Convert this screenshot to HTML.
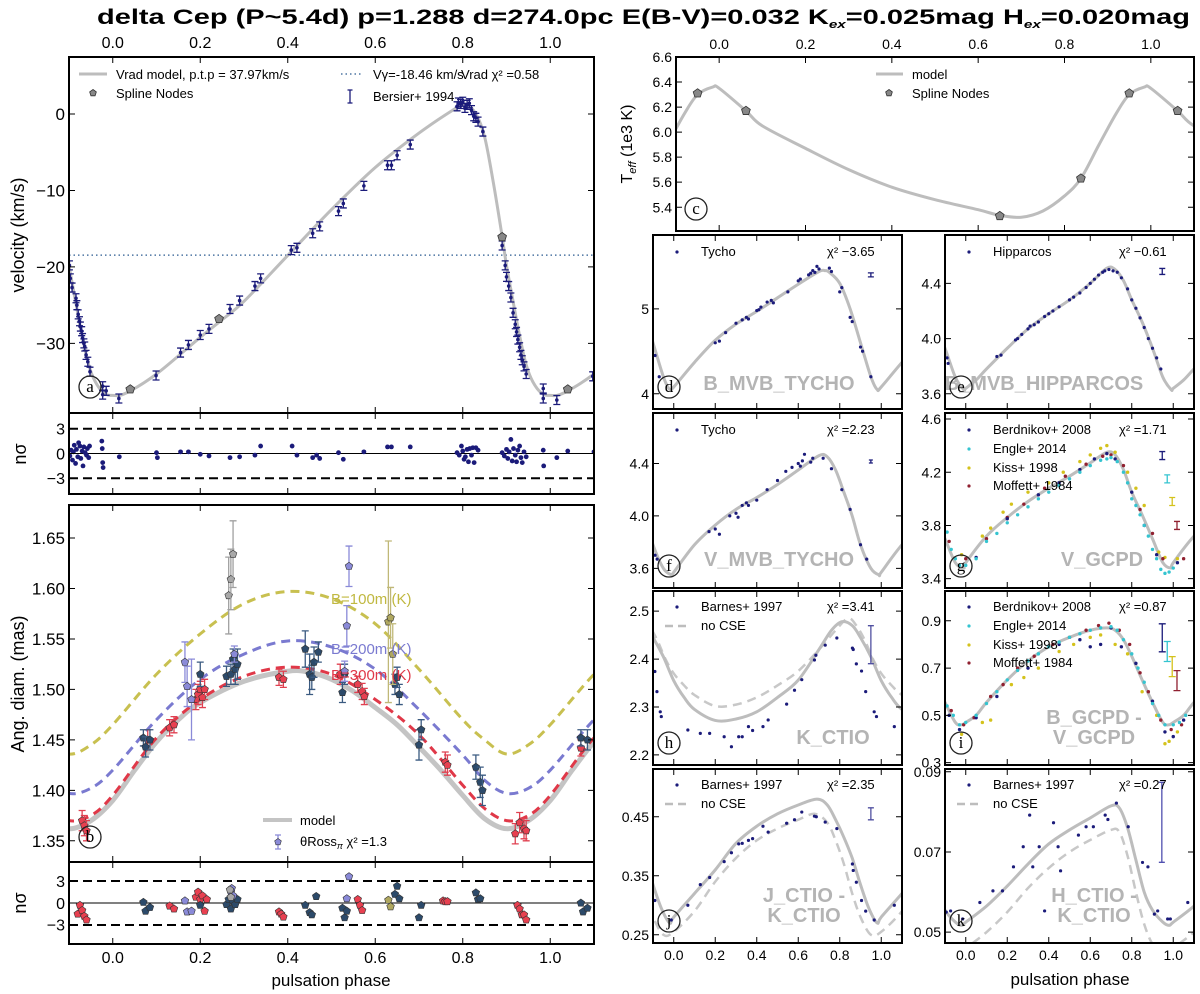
<!DOCTYPE html>
<html><head><meta charset="utf-8"><title>delta Cep fit</title>
<style>
html,body{margin:0;padding:0;background:#fff;}
svg{display:block;font-family:"Liberation Sans","DejaVu Sans",sans-serif;}
</style></head>
<body>
<svg id="chart" xmlns="http://www.w3.org/2000/svg" width="1200" height="994" viewBox="0 0 1200 994">
<rect x="0" y="0" width="1200" height="994" fill="#fff"/>
<text x="97" y="24" font-size="21" font-weight="bold" textLength="1093" lengthAdjust="spacingAndGlyphs">delta Cep (P~5.4d) p=1.288 d=274.0pc E(B-V)=0.032 K<tspan font-size="11" dy="4" font-style="italic">ex</tspan><tspan dy="-4">=0.025mag H</tspan><tspan font-size="11" dy="4" font-style="italic">ex</tspan><tspan dy="-4">=0.020mag</tspan></text>
</svg>
<script>
// ---------------- DATA ----------------
const velModelPh = [0,0.03,0.1,0.2,0.25,0.3,0.4,0.5,0.6,0.7,0.78,0.805,0.83,0.85,0.87,0.89,0.9,0.915,0.93,0.945,0.96,0.98];
const velModelV  = [-36.8,-36.5,-34,-29.2,-26.9,-24.5,-18.5,-12.5,-7,-2.5,0.6,1.3,0,-3,-9,-16,-19.8,-24.5,-29,-32.8,-35,-36.5];
const velNodePh = [0.04,0.243,0.89,1.04];
const velNodeV  = [-36,-26.8,-16.1,-36];
const velDataPh = [-0.099,-0.097,-0.093,-0.084,-0.082,-0.079,-0.076,-0.074,-0.071,-0.069,-0.066,-0.064,-0.061,-0.057,-0.052,-0.023,-0.023,-0.015,0.014,0.099,0.155,0.173,0.2,0.22,0.268,0.29,0.325,0.338,0.408,0.421,0.457,0.473,0.516,0.527,0.574,0.628,0.637,0.65,0.68,0.787,0.79,0.795,0.8,0.805,0.81,0.815,0.82,0.825,0.83,0.835,0.846,0.89,0.897,0.9,0.905,0.91,0.915,0.92,0.923,0.926,0.93,0.933,0.936,0.94,0.945,0.984,0.984,1.015,1.097];
const velDataV  = [-19.8,-21.5,-22.7,-24.1,-25,-26.2,-27.1,-27.8,-28.4,-29.3,-30,-30.4,-31.5,-32.4,-33.7,-35.6,-36.7,-36.2,-37.2,-34.2,-31.2,-30.2,-28.9,-28.1,-25.5,-24.4,-22.5,-21.5,-17.8,-17.5,-15.6,-14.7,-12.7,-11.7,-9.4,-6.7,-6.7,-5.4,-4.0,1.0,1.5,1.3,1.6,0.8,1.2,1.4,0.5,-0.3,-0.5,-1.0,-2.3,-17.2,-19.8,-21.3,-22.5,-24,-26,-27.5,-28.5,-29.5,-30.5,-31.5,-32.2,-33,-34,-35.9,-37.2,-37.4,-34.3];
const vGamma = -18.46;
const resAPh = [-0.098,-0.095,-0.092,-0.09,-0.088,-0.085,-0.083,-0.08,-0.078,-0.075,-0.073,-0.07,-0.068,-0.066,-0.063,-0.06,-0.058,-0.055,-0.053,-0.025,-0.024,-0.023,-0.022,0.015,0.1,0.102,0.155,0.173,0.2,0.22,0.268,0.29,0.325,0.338,0.41,0.421,0.457,0.466,0.473,0.516,0.527,0.574,0.628,0.637,0.68,0.787,0.792,0.797,0.8,0.803,0.806,0.81,0.813,0.816,0.82,0.823,0.826,0.83,0.835,0.89,0.895,0.9,0.903,0.906,0.91,0.913,0.916,0.92,0.923,0.926,0.93,0.933,0.936,0.94,0.945,0.984,0.985,1.015,1.04,1.1];
const resAV  = [-0.3,0.4,-0.8,0.2,1.0,-1.2,0.5,-0.4,1.3,0.9,-0.6,0.3,-1.5,0.8,0.1,-0.2,0.6,-0.5,0.9,1.5,0.6,-1.1,-1.7,-0.4,0.1,-0.5,0.2,0.2,-0.1,-0.3,-0.5,-0.4,-0.2,0.9,0.9,-0.2,-0.5,-0.2,-0.6,0.1,-0.7,0.2,0.8,0.8,0.8,0.1,-0.2,0.9,0.3,-0.7,-0.4,0.5,-1.0,0.6,-0.2,0.7,-1.1,0.7,0.4,0.1,-0.3,0.5,-0.6,0.2,1.7,-0.9,0.6,-0.2,-1.0,0.4,0.9,-0.5,-1.1,0.2,-0.4,0.4,-1.5,-0.5,0.3,0.2];

const diamModelPh = [0,0.05,0.1,0.15,0.2,0.3,0.4,0.45,0.5,0.55,0.6,0.65,0.7,0.75,0.8,0.85,0.9,0.95];
const diamModelV  = [1.39,1.42,1.448,1.47,1.487,1.508,1.518,1.517,1.51,1.498,1.482,1.465,1.443,1.42,1.395,1.372,1.362,1.37];
const diam300Ph = [0,0.1,0.2,0.3,0.4,0.5,0.6,0.7,0.8,0.85,0.9,0.95];
const diam300V  = [1.395,1.452,1.49,1.513,1.522,1.515,1.49,1.455,1.405,1.382,1.37,1.375];
const diam200Ph = [0,0.1,0.2,0.3,0.4,0.5,0.6,0.7,0.8,0.85,0.9,0.95];
const diam200V  = [1.42,1.47,1.51,1.535,1.548,1.542,1.52,1.48,1.435,1.41,1.397,1.402];
const diam100Ph = [0,0.1,0.2,0.3,0.4,0.5,0.6,0.7,0.8,0.85,0.9,0.95];
const diam100V  = [1.465,1.515,1.555,1.585,1.597,1.59,1.565,1.52,1.47,1.45,1.436,1.445];
const diamDataPh  = [-0.07,-0.065,-0.06,0.08,0.13,0.14,0.19,0.195,0.2,0.205,0.21,0.38,0.39,0.52,0.56,0.57,0.575,0.76,0.765,0.92,0.93,0.94,0.945,1.07,0.07,0.075,0.085,0.2,0.26,0.27,0.275,0.28,0.285,0.44,0.45,0.455,0.46,0.47,0.525,0.53,0.645,0.65,0.655,0.7,0.705,0.83,0.84,0.845,1.07,1.085,0.165,0.17,0.18,0.54,0.535,0.53,0.278,0.265,0.27,0.275,0.63,0.635,0.64];
const diamDataV   = [1.37,1.365,1.36,1.45,1.462,1.465,1.49,1.495,1.5,1.492,1.5,1.512,1.51,1.515,1.505,1.498,1.493,1.428,1.425,1.357,1.368,1.362,1.36,1.442,1.452,1.443,1.45,1.515,1.513,1.515,1.53,1.52,1.525,1.54,1.515,1.512,1.527,1.537,1.497,1.515,1.505,1.512,1.495,1.445,1.46,1.423,1.408,1.4,1.452,1.45,1.527,1.503,1.49,1.622,1.563,1.518,1.535,1.593,1.609,1.634,1.567,1.571,1.535];
const diamDataErr = [0.01,0.01,0.01,0.01,0.008,0.008,0.01,0.01,0.008,0.01,0.01,0.008,0.008,0.01,0.008,0.008,0.008,0.01,0.01,0.01,0.01,0.01,0.01,0.008,0.008,0.01,0.01,0.012,0.01,0.01,0.01,0.015,0.015,0.018,0.02,0.012,0.015,0.01,0.01,0.01,0.01,0.01,0.01,0.015,0.01,0.012,0.015,0.015,0.008,0.01,0.02,0.02,0.04,0.02,0.02,0.01,0.008,0.038,0.03,0.033,0.08,0.03,0.03];
const diamDataGrp = ["r","r","r","r","r","r","r","r","r","r","r","r","r","r","r","r","r","r","r","r","r","r","r","r","d","d","d","d","d","d","d","d","d","d","d","d","d","d","d","d","d","d","d","d","d","d","d","d","d","d","l","l","l","l","l","l","l","g","g","g","o","o","o"];
const resBPh  = [-0.08,-0.075,-0.07,-0.065,-0.06,0.13,0.14,0.19,0.195,0.2,0.205,0.21,0.215,0.38,0.385,0.39,0.56,0.565,0.57,0.755,0.76,0.765,0.925,0.93,0.935,0.94,0.945,0.07,0.075,0.085,0.2,0.26,0.265,0.27,0.275,0.28,0.285,0.44,0.45,0.455,0.465,0.525,0.53,0.535,0.645,0.65,0.655,0.7,0.705,0.83,0.835,0.84,1.07,1.075,1.085,0.165,0.17,0.18,0.54,0.535,0.27,0.272,0.275,0.63,0.635,0.268,0.27];
const resBV   = [-1.5,-0.3,-1,-1.8,-2.3,-0.4,-0.8,0.8,1.5,0.5,1.0,-1.1,0.5,-1.2,-1.5,-1.9,0.5,-0.3,-1.0,0.3,0.2,0.2,-0.3,-0.8,-1.6,-1.6,-2.3,0.1,-1.1,-0.6,-0.3,-0.2,0.5,-0.8,0.2,-0.2,0.5,-0.3,-1.3,-1.6,0.9,-0.7,-2.0,-1.1,1.2,2.3,0.6,-2.0,-0.3,1.4,0.5,0.6,0.0,-1.2,-0.7,0.3,-1.2,-1.1,3.6,0.6,1.5,2.0,1.0,0.4,-0.5,1.8,0.8];
const resBGrp = ["r","r","r","r","r","r","r","r","r","r","r","r","r","r","r","r","r","r","r","r","r","r","r","r","r","r","r","d","d","d","d","d","d","d","d","d","d","d","d","d","d","d","d","d","d","d","d","d","d","d","d","d","d","d","d","l","l","l","l","l","l","l","l","o","o","g","g"];

const teffModelPh = [0,0.062,0.1,0.2,0.3,0.4,0.5,0.6,0.65,0.7,0.75,0.8,0.838,0.88,0.92,0.95,0.985];
const teffModelV  = [6.35,6.17,6.05,5.87,5.7,5.56,5.46,5.38,5.335,5.32,5.37,5.49,5.63,5.9,6.15,6.3,6.36];
const teffNodePh = [-0.05,0.062,0.65,0.838,0.95,1.062];
const teffNodeV  = [6.31,6.17,5.33,5.63,6.31,6.17];

const dModelPh = [0,0.1,0.2,0.3,0.4,0.5,0.6,0.7,0.73,0.75,0.8,0.85,0.9,0.95,0.98];
const dModelV  = [4.08,4.37,4.63,4.82,4.97,5.13,5.29,5.44,5.45,5.43,5.3,5.0,4.6,4.2,4.05];
const dDataPh = [-0.09,-0.07,0.2,0.22,0.25,0.3,0.33,0.35,0.36,0.4,0.41,0.42,0.45,0.47,0.48,0.55,0.6,0.61,0.65,0.66,0.67,0.68,0.69,0.7,0.75,0.76,0.8,0.81,0.85,0.86,0.9,0.91,0.95];
const dDataV  = [4.45,4.2,4.6,4.62,4.72,4.83,4.87,4.9,4.88,4.98,4.99,5.02,5.08,5.1,5.07,5.2,5.33,5.35,5.4,5.42,5.45,5.43,5.5,5.47,5.48,5.44,5.2,5.25,4.9,4.85,4.55,4.5,4.2];

const eModelPh = [0,0.05,0.1,0.2,0.3,0.4,0.5,0.6,0.68,0.72,0.76,0.8,0.85,0.9,0.95,0.99];
const eModelV  = [3.64,3.7,3.78,3.93,4.07,4.18,4.28,4.4,4.51,4.5,4.42,4.28,4.12,3.93,3.72,3.63];
const eDataPh = [-0.09,-0.085,0.15,0.17,0.24,0.25,0.27,0.3,0.31,0.33,0.35,0.38,0.4,0.42,0.45,0.5,0.52,0.55,0.58,0.6,0.62,0.64,0.66,0.67,0.69,0.71,0.73,0.75,0.78,0.8,0.82,0.84,0.86,0.88,0.9,0.92,0.94];
const eDataV  = [3.86,3.82,3.87,3.88,3.99,4.0,4.03,4.07,4.09,4.1,4.12,4.16,4.18,4.2,4.23,4.28,4.3,4.33,4.37,4.4,4.43,4.46,4.48,4.49,4.5,4.49,4.48,4.44,4.36,4.28,4.22,4.15,4.08,4.0,3.93,3.86,3.78];

const fModelPh = [0,0.1,0.2,0.3,0.4,0.5,0.6,0.7,0.74,0.78,0.82,0.86,0.9,0.95,0.99];
const fModelV  = [3.57,3.78,3.93,4.05,4.14,4.24,4.35,4.46,4.45,4.35,4.18,4.0,3.78,3.6,3.55];
const fDataPh = [-0.09,-0.08,0.17,0.2,0.22,0.27,0.3,0.31,0.33,0.35,0.36,0.4,0.45,0.5,0.54,0.57,0.6,0.61,0.62,0.63,0.66,0.67,0.72,0.76,0.81,0.85,0.9,0.93];
const fDataV  = [3.7,3.67,3.88,3.9,3.86,4.0,4.02,3.99,4.08,4.1,4.08,4.12,4.2,4.27,4.34,4.37,4.4,4.38,4.42,4.47,4.41,4.44,4.44,4.36,4.2,4.05,3.78,3.67];

const gModelPh = [0,0.1,0.2,0.3,0.4,0.5,0.6,0.68,0.72,0.76,0.8,0.85,0.9,0.95,0.99];
const gModelV  = [3.52,3.72,3.86,3.98,4.08,4.17,4.27,4.35,4.33,4.22,4.05,3.88,3.7,3.52,3.48];
const gBerdPh = [0.05,0.2,0.35,0.45,0.55,0.62,0.68,0.72,0.8,0.86,0.92,1.02];
const gBerdV  = [3.56,3.85,4.03,4.12,4.22,4.3,4.34,4.3,4.05,3.8,3.58,3.52];
const gEnglePh = [-0.09,-0.07,-0.05,-0.03,0.0,0.05,0.1,0.15,0.2,0.25,0.3,0.35,0.4,0.45,0.5,0.55,0.6,0.65,0.68,0.7,0.73,0.76,0.78,0.8,0.82,0.84,0.86,0.88,0.9,0.92,0.94,0.96,0.98,1.0];
const gEngleV  = [3.75,3.62,3.55,3.5,3.5,3.55,3.68,3.74,3.82,3.88,3.94,4.0,4.05,4.1,4.15,4.2,4.25,4.29,4.3,4.31,4.28,4.2,4.12,4.0,3.95,3.88,3.8,3.72,3.62,3.55,3.47,3.44,3.45,3.48];
const gKissPh = [-0.02,0.08,0.12,0.18,0.22,0.3,0.4,0.47,0.55,0.6,0.65,0.68,0.72,0.78,0.82,0.86,0.93,0.96,1.02];
const gKissV  = [3.58,3.72,3.78,3.9,3.96,4.05,4.12,4.2,4.28,4.33,4.38,4.4,4.35,4.2,4.08,3.95,3.6,3.56,3.55];
const gMofPh = [-0.08,0.0,0.1,0.2,0.28,0.38,0.48,0.58,0.66,0.7,0.76,0.84,0.9,0.95,1.05];
const gMofV  = [3.68,3.55,3.7,3.86,3.96,4.08,4.17,4.26,4.32,4.33,4.25,3.92,3.74,3.55,3.55];

const hModelPh = [0,0.05,0.1,0.2,0.3,0.4,0.5,0.6,0.7,0.76,0.81,0.86,0.9,0.95];
const hModelV  = [2.355,2.32,2.295,2.272,2.275,2.29,2.32,2.356,2.42,2.46,2.478,2.47,2.445,2.405];
const hNoCsePh = [0,0.05,0.1,0.2,0.3,0.4,0.5,0.6,0.7,0.78,0.84,0.88,0.92,0.96];
const hNoCseV  = [2.37,2.345,2.325,2.302,2.305,2.32,2.345,2.375,2.42,2.46,2.485,2.47,2.44,2.4];
const hDataPh = [-0.091,-0.081,-0.065,-0.06,0.068,0.128,0.173,0.243,0.278,0.313,0.33,0.36,0.38,0.43,0.455,0.544,0.582,0.617,0.678,0.685,0.73,0.786,0.861,0.865,0.88,0.905,0.925,0.966,0.977,1.063];
const hDataV  = [2.374,2.332,2.29,2.28,2.252,2.245,2.245,2.238,2.217,2.238,2.238,2.259,2.251,2.259,2.273,2.306,2.335,2.357,2.398,2.408,2.429,2.444,2.423,2.42,2.39,2.375,2.332,2.29,2.28,2.259];

const iModelPh = [0,0.05,0.1,0.2,0.3,0.4,0.5,0.6,0.68,0.72,0.76,0.8,0.85,0.9,0.95,0.98];
const iModelV  = [0.47,0.5,0.555,0.65,0.73,0.79,0.83,0.86,0.87,0.86,0.82,0.75,0.65,0.555,0.47,0.46];
const iBerdPh = [-0.08,-0.03,0.05,0.15,0.3,0.45,0.55,0.6,0.65,0.7,0.75,0.82,0.9,0.96,1.0,1.05];
const iBerdV  = [0.5,0.44,0.49,0.58,0.7,0.8,0.82,0.79,0.8,0.87,0.79,0.72,0.56,0.43,0.41,0.48];
const iEnglePh = [-0.09,-0.06,-0.03,0.0,0.05,0.1,0.15,0.2,0.25,0.3,0.35,0.4,0.45,0.5,0.55,0.6,0.65,0.7,0.73,0.76,0.8,0.83,0.86,0.9,0.93,0.96,1.0,1.03,1.06];
const iEngleV  = [0.54,0.5,0.46,0.47,0.5,0.55,0.6,0.65,0.69,0.73,0.76,0.79,0.81,0.83,0.845,0.86,0.87,0.875,0.86,0.82,0.76,0.7,0.64,0.55,0.5,0.46,0.46,0.47,0.5];
const iKissPh = [-0.02,0.08,0.12,0.22,0.28,0.35,0.45,0.52,0.6,0.65,0.72,0.78,0.85,0.92,0.96,0.98,1.02];
const iKissV  = [0.42,0.47,0.48,0.63,0.66,0.7,0.77,0.8,0.83,0.84,0.8,0.76,0.6,0.5,0.38,0.39,0.43];
const iMofPh = [-0.07,-0.01,0.04,0.12,0.18,0.25,0.33,0.42,0.5,0.58,0.64,0.69,0.74,0.79,0.84,0.88,0.94,0.99,1.04];
const iMofV  = [0.52,0.46,0.49,0.58,0.63,0.7,0.75,0.8,0.83,0.86,0.88,0.89,0.86,0.8,0.68,0.6,0.48,0.44,0.46];

const jModelPh = [0,0.1,0.2,0.3,0.4,0.5,0.6,0.69,0.74,0.78,0.82,0.86,0.9,0.94,0.98];
const jModelV  = [0.28,0.32,0.36,0.405,0.434,0.455,0.47,0.48,0.47,0.445,0.415,0.38,0.335,0.295,0.27];
const jNoCsePh = [0,0.1,0.2,0.3,0.4,0.5,0.6,0.68,0.74,0.78,0.82,0.86,0.9,0.95];
const jNoCseV  = [0.255,0.29,0.34,0.38,0.41,0.43,0.445,0.455,0.44,0.41,0.37,0.32,0.28,0.25];
const jDataPh = [-0.091,-0.012,0.068,0.128,0.173,0.243,0.278,0.313,0.33,0.36,0.38,0.43,0.455,0.544,0.582,0.617,0.678,0.687,0.73,0.786,0.861,0.865,0.88,0.905,0.925,0.966,1.063];
const jDataV  = [0.308,0.275,0.3,0.335,0.347,0.374,0.389,0.404,0.405,0.41,0.413,0.434,0.424,0.439,0.445,0.458,0.451,0.45,0.441,0.43,0.37,0.359,0.339,0.308,0.29,0.275,0.3];

const kModelPh = [0,0.1,0.2,0.3,0.4,0.5,0.6,0.7,0.74,0.78,0.82,0.86,0.9,0.95,0.98];
const kModelV  = [0.0525,0.0565,0.0615,0.067,0.072,0.0755,0.0785,0.0815,0.081,0.076,0.068,0.06,0.0555,0.0525,0.0517];
const kNoCsePh = [0,0.1,0.2,0.3,0.4,0.5,0.6,0.7,0.74,0.78,0.82,0.86,0.9,0.95];
const kNoCseV  = [0.046,0.05,0.055,0.061,0.066,0.07,0.073,0.0755,0.075,0.069,0.06,0.052,0.047,0.044];
const kDataPh = [-0.094,-0.073,-0.015,0.068,0.131,0.177,0.23,0.277,0.308,0.323,0.354,0.38,0.423,0.445,0.457,0.543,0.58,0.615,0.672,0.685,0.726,0.783,0.852,0.878,0.909,0.925,0.973,0.986,1.07];
const kDataV  = [0.055,0.0553,0.0533,0.0574,0.0603,0.0603,0.0663,0.0713,0.0792,0.0663,0.0713,0.0553,0.0773,0.0713,0.0653,0.0742,0.0763,0.0763,0.0792,0.0781,0.0822,0.0763,0.0674,0.0663,0.0545,0.0553,0.0533,0.0533,0.0574];

// ---------------- DRAWING ----------------
const NS = 'http://www.w3.org/2000/svg';
const svg = document.getElementById('chart');
function mk(tag, attrs, parent){
  const e = document.createElementNS(NS, tag);
  for (const k in attrs) e.setAttribute(k, attrs[k]);
  (parent || svg).appendChild(e);
  return e;
}
let clipId = 0;
function makePanel(name, x0, y0, x1, y1, xmin, xmax, ymin, ymax){
  const P = {x0, y0, x1, y1};
  P.sx = v => x0 + (v - xmin) / (xmax - xmin) * (x1 - x0);
  P.sy = v => y1 - (v - ymin) / (ymax - ymin) * (y1 - y0);
  const cp = mk('clipPath', {id: 'clip' + (++clipId)});
  mk('rect', {x: x0, y: y0, width: x1 - x0, height: y1 - y0}, cp);
  P.g = mk('g', {'clip-path': 'url(#clip' + clipId + ')'});
  
  
  P.name = name;
  return P;
}
function frame(P){
  const r = mk('rect', {x: P.x0, y: P.y0, width: P.x1 - P.x0, height: P.y1 - P.y0, fill: 'none', stroke: '#000', 'stroke-width': 2});
  
  
}
function xTicks(P, vals, labelY, fs, topLabelY){
  vals.forEach(v => {
    const x = P.sx(v);
    const t = mk('path', {d: `M${x},${P.y1}v-6M${x},${P.y0}v6`, stroke: '#000', 'stroke-width': 1});
    
    
    if (labelY) {
      const l = mk('text', {x: x, y: labelY, 'font-size': fs, 'text-anchor': 'middle'});
      l.textContent = v.toFixed(1);
      
      
    }
    if (topLabelY) {
      const l2 = mk('text', {x: x, y: topLabelY, 'font-size': fs, 'text-anchor': 'middle'});
      l2.textContent = v.toFixed(1);
      
      
    }
  });
}
function yTicks(P, vals, labels, fs){
  vals.forEach((v, i) => {
    const y = P.sy(v);
    const t = mk('path', {d: `M${P.x0},${y}h6M${P.x1},${y}h-6`, stroke: '#000', 'stroke-width': 1});
    
    
    const l = mk('text', {x: P.x0 - 4, y: y + fs * 0.36, 'font-size': fs, 'text-anchor': 'end'});
    l.textContent = labels[i];
    
    
  });
}
function cyclePts(P, ph, vals){
  const pts = [];
  for (const s of [-1, 0, 1]) {
    ph.forEach((p, i) => { const q = p + s; if (q > -0.4 && q < 1.4) pts.push([q, vals[i]]); });
  }
  pts.sort((a, b) => a[0] - b[0]);
  return pts.map(p => [P.sx(p[0]), P.sy(p[1])]);
}
function smoothPath(pts){
  let d = 'M' + pts[0][0].toFixed(2) + ',' + pts[0][1].toFixed(2);
  for (let i = 0; i < pts.length - 1; i++) {
    const p0 = pts[i - 1] || pts[i], p1 = pts[i], p2 = pts[i + 1], p3 = pts[i + 2] || p2;
    const c1 = [p1[0] + (p2[0] - p0[0]) / 6, p1[1] + (p2[1] - p0[1]) / 6];
    const c2 = [p2[0] - (p3[0] - p1[0]) / 6, p2[1] - (p3[1] - p1[1]) / 6];
    d += 'C' + c1.map(n => n.toFixed(2)) + ' ' + c2.map(n => n.toFixed(2)) + ' ' + p2.map(n => n.toFixed(2));
  }
  return d;
}
function curve(P, ph, vals, stroke, width, dash, name){
  const a = {d: smoothPath(cyclePts(P, ph, vals)), fill: 'none', stroke: stroke, 'stroke-width': width};
  if (dash) a['stroke-dasharray'] = dash;
  const c = mk('path', a, P.g);
  
  
}
function pentagon(cx, cy, r){
  let s = '';
  for (let k = 0; k < 5; k++) { const a = -Math.PI / 2 + k * 2 * Math.PI / 5; s += (cx + r * Math.cos(a)).toFixed(2) + ',' + (cy + r * Math.sin(a)).toFixed(2) + ' '; }
  return s;
}
function nodes(P, ph, vals, name){
  ph.forEach((p, i) => {
    const n = mk('polygon', {points: pentagon(P.sx(p), P.sy(vals[i]), 4.6), fill: '#888', stroke: '#333', 'stroke-width': 0.8}, P.g);
    
    
  });
}
function dots(P, ph, vals, color, r, name){
  ph.forEach((p, i) => {
    const d = mk('circle', {cx: P.sx(p), cy: P.sy(vals[i]), r: r, fill: color}, P.g);
    
    
  });
}
function errbar(parent, x, yTop, yBot, color, w, name){
  const e = mk('path', {d: `M${x},${yTop}V${yBot}M${x - w},${yTop}h${2 * w}M${x - w},${yBot}h${2 * w}`, stroke: color, 'stroke-width': 1.3, fill: 'none'}, parent);
  
  
}
function txt(x, y, s, fs, extra, name){
  const a = Object.assign({x: x, y: y, 'font-size': fs}, extra || {});
  const t = mk('text', a);
  t.textContent = s;
  
  
  return t;
}
function circleLabel(x, y, ch, name){
  const c = mk('circle', {cx: x, cy: y, r: 11, fill: 'none', stroke: '#222', 'stroke-width': 1.3});
  
  
  const t = mk('text', {x: x, y: y + 5, 'font-size': 17, 'text-anchor': 'middle', 'font-family': '"Liberation Serif", serif'});
  t.textContent = ch;
  
  
}
function bigLabel(x, y, s, name){
  txt(x, y, s, 20, {'text-anchor': 'middle', 'font-weight': 'bold', fill: '#b4b4b4'}, name);
}
function residual(P){
  const z = mk('path', {d: `M${P.x0},${P.sy(0)}H${P.x1}`, stroke: '#000', 'stroke-width': 1}, P.g);
  
  
  [3, -3].forEach(v => {
    const l = mk('path', {d: `M${P.x0},${P.sy(v)}H${P.x1}`, stroke: '#000', 'stroke-width': 2, 'stroke-dasharray': '9,5'}, P.g);
    
    
  });
}
const phTicks = [0, 0.2, 0.4, 0.6, 0.8, 1.0];
const GRAY = '#bdbdbd', NAVY = '#1b1b7a', CYAN = '#34c4d0', YEL = '#d4c21c', DRED = '#902030';

// ---- panel a ----
const A = makePanel('velocity-panel', 69, 57, 594, 413, -0.1, 1.1, -39.1, 7.45);
const vg = mk('path', {d: `M${A.x0},${A.sy(vGamma)}H${A.x1}`, stroke: '#2a5a90', 'stroke-width': 1.2, 'stroke-dasharray': '1.5,3'}, A.g);


curve(A, velModelPh, velModelV, GRAY, 3, null, 'vrad-model-curve');
velDataPh.forEach((p, i) => {
  const x = A.sx(p), y = A.sy(velDataV[i]);
  errbar(A.g, x, y - 4.5, y + 4.5, NAVY, 3.5, 'vrad-errorbar');
  const c = mk('circle', {cx: x, cy: y, r: 1.8, fill: NAVY}, A.g);
  
  
});
nodes(A, velNodePh, velNodeV, 'vrad-spline-node');
frame(A);
xTicks(A, phTicks, null, 16, 48);
yTicks(A, [0, -10, -20, -30], ['0', '\u221210', '\u221220', '\u221230'], 17);
txt(0, 0, 'velocity (km/s)', 18, {transform: 'translate(24,235) rotate(-90)', 'text-anchor': 'middle'}, 'velocity-y-axis-title');
const la = mk('path', {d: 'M79,74h28', stroke: GRAY, 'stroke-width': 3});  
txt(116, 79, 'Vrad model, p.t.p = 37.97km/s', 13, {}, 'legend-vrad-model');
const ln = mk('polygon', {points: pentagon(93, 93, 3.5), fill: '#888', stroke: '#333', 'stroke-width': 0.8});  
txt(116, 98, 'Spline Nodes', 13, {}, 'legend-spline-nodes');
const ld = mk('path', {d: 'M341,74h20', stroke: '#2a5a90', 'stroke-width': 1.2, 'stroke-dasharray': '1.5,3'});  
txt(373, 79, 'V\u03b3=-18.46 km/s', 13, {}, 'legend-vgamma');
txt(461, 79, 'Vrad \u03c7\u00b2 =0.58', 13, {}, 'legend-vrad-chi2');
errbar(svg, 350, 90, 103, NAVY, 2.5, 'legend-bersier-errorbar');
txt(373, 101, 'Bersier+ 1994', 13, {}, 'legend-bersier');
circleLabel(90, 387, 'a', 'panel-a-label');

// ---- residual a ----
const RA = makePanel('velocity-residual-panel', 69, 413, 594, 494, -0.1, 1.1, -4.9, 4.9);
residual(RA);
dots(RA, resAPh, resAV, NAVY, 2.4, 'vrad-residual-point');
frame(RA);
xTicks(RA, phTicks, null, 16);
yTicks(RA, [3, 0, -3], ['3', '0', '\u22123'], 16);
txt(0, 0, 'n\u03c3', 18, {transform: 'translate(26,454) rotate(-90)', 'text-anchor': 'middle'}, 'velocity-residual-y-title');

// ---- panel b ----
const B = makePanel('diameter-panel', 69, 505, 594, 862, -0.1, 1.1, 1.329, 1.6827);
curve(B, diamModelPh, diamModelV, '#c4c4c4', 5, null, 'diameter-model-curve');
curve(B, diam100Ph, diam100V, '#c8c050', 3, '9,6', 'diameter-100m-curve');
curve(B, diam200Ph, diam200V, '#7a7ad0', 3, '9,6', 'diameter-200m-curve');
curve(B, diam300Ph, diam300V, '#e03848', 3, '9,6', 'diameter-300m-curve');
const grpCol = {r: '#e84050', d: '#2c4a6a', l: '#8a8ad8', g: '#a8a8a8', o: '#b0a860'};
const grpErr = {r: '#e04050', d: '#3a5a80', l: '#8a8ad8', g: '#a0a0a0', o: '#c0b878'};
diamDataPh.forEach((p, i) => {
  const x = B.sx(p), y = B.sy(diamDataV[i]);
  const e = diamDataErr[i] * 1010;
  errbar(B.g, x, y - e, y + e, grpErr[diamDataGrp[i]], 3.5, 'diameter-errorbar');
  const m = mk('polygon', {points: pentagon(x, y, 4), fill: grpCol[diamDataGrp[i]], stroke: '#333', 'stroke-width': 0.6}, B.g);
  
  
});
txt(331, 604, 'B=100m (K)', 15, {fill: '#c0b840'}, 'label-100m');
txt(331, 654, 'B=200m (K)', 15, {fill: '#7a7ad0'}, 'label-200m');
txt(331, 680, 'B=300m (K)', 15, {fill: '#e03848'}, 'label-300m');
frame(B);
xTicks(B, phTicks, null, 16);
yTicks(B, [1.35, 1.40, 1.45, 1.50, 1.55, 1.60, 1.65], ['1.35', '1.40', '1.45', '1.50', '1.55', '1.60', '1.65'], 17);
txt(0, 0, 'Ang. diam. (mas)', 18, {transform: 'translate(24,684) rotate(-90)', 'text-anchor': 'middle'}, 'diameter-y-axis-title');
const lb = mk('path', {d: 'M263,820h29', stroke: '#c4c4c4', 'stroke-width': 4});  
txt(300, 825, 'model', 13, {}, 'legend-diam-model');
errbar(svg, 278, 835, 849, '#8a8ad8', 3, 'legend-ross-errorbar');
const lp = mk('polygon', {points: pentagon(278, 842, 3.5), fill: '#8a8ad8', stroke: '#333', 'stroke-width': 0.6});  
const lrt = txt(300, 846, '\u03b8Ross', 13, {}, 'legend-ross');
const lrs = mk('tspan', {dy: 3, 'font-size': 9, 'font-style': 'italic'}, lrt); lrs.textContent = '\u03c0';
const lrc = mk('tspan', {dy: -3}, lrt); lrc.textContent = ' \u03c7\u00b2 =1.3';
circleLabel(90, 837, 'b', 'panel-b-label');

// ---- residual b ----
const RB = makePanel('diameter-residual-panel', 69, 862, 594, 944, -0.1, 1.1, -5.6, 5.6);
residual(RB);
resBPh.forEach((p, i) => {
  const m = mk('polygon', {points: pentagon(RB.sx(p), RB.sy(resBV[i]), 4), fill: grpCol[resBGrp[i]], stroke: '#333', 'stroke-width': 0.6}, RB.g);
  
  
});
frame(RB);
xTicks(RB, phTicks, 963, 16);
yTicks(RB, [3, 0, -3], ['3', '0', '\u22123'], 16);
txt(0, 0, 'n\u03c3', 18, {transform: 'translate(26,903) rotate(-90)', 'text-anchor': 'middle'}, 'diameter-residual-y-title');
txt(331, 986, 'pulsation phase', 17, {'text-anchor': 'middle'}, 'left-x-axis-title');

// ---- panel c ----
const C = makePanel('teff-panel', 676, 57, 1194, 231, -0.1, 1.1, 5.21, 6.6);
curve(C, teffModelPh, teffModelV, GRAY, 3, null, 'teff-model-curve');
nodes(C, teffNodePh, teffNodeV, 'teff-spline-node');
frame(C);
xTicks(C, phTicks, null, 14, 49);
yTicks(C, [5.4, 5.6, 5.8, 6.0, 6.2, 6.4, 6.6], ['5.4', '5.6', '5.8', '6.0', '6.2', '6.4', '6.6'], 14);
const tt = txt(0, 0, 'T', 16, {transform: 'translate(632,144) rotate(-90)', 'text-anchor': 'middle'}, 'teff-y-axis-title');
const tts = mk('tspan', {dy: 4, 'font-size': 11, 'font-style': 'italic'}, tt); tts.textContent = 'eff';
const ttr = mk('tspan', {dy: -4}, tt); ttr.textContent = ' (1e3 K)';
const lc = mk('path', {d: 'M876,74h27', stroke: GRAY, 'stroke-width': 3});  
txt(912, 79, 'model', 13, {}, 'legend-teff-model');
const lcn = mk('polygon', {points: pentagon(889, 93, 3.5), fill: '#888', stroke: '#333', 'stroke-width': 0.8});  
txt(912, 98, 'Spline Nodes', 13, {}, 'legend-teff-nodes');
circleLabel(696, 209, 'c', 'panel-c-label');

// ---- small panels ----
function smallLegend(x, y, color, s, name){
  const d = mk('circle', {cx: x, cy: y - 4, r: 1.6, fill: color});
  
  
  txt(x + 24, y, s, 13, {}, name);
}
function dashLegend(x, y, name){
  const d = mk('path', {d: `M${x - 12},${y - 4}h26`, stroke: GRAY, 'stroke-width': 2.5, 'stroke-dasharray': '8,5'});
  
  
  txt(x + 24, y, 'no CSE', 13, {}, name);
}
const D = makePanel('b-tycho-panel', 653, 235, 902, 409, -0.1, 1.1, 3.82, 5.87);
curve(D, dModelPh, dModelV, GRAY, 3, null, 'b-tycho-model');
dots(D, dDataPh, dDataV, NAVY, 1.6, 'b-tycho-point');
errbar(D.g, D.sx(0.95), D.sy(5.40) - 2, D.sy(5.40) + 2, NAVY, 3, 'b-tycho-error-sample');
bigLabel(779, 390, 'B_MVB_TYCHO', 'b-tycho-band-label');
frame(D);
xTicks(D, phTicks, null, 13);
yTicks(D, [4, 5], ['4', '5'], 14);
smallLegend(677, 256, NAVY, 'Tycho', 'legend-b-tycho');
txt(827, 256, '\u03c7\u00b2 \u22123.65', 13, {}, 'b-tycho-chi2');
circleLabel(669, 387, 'd', 'panel-d-label');

const E = makePanel('hipparcos-panel', 945, 235, 1194, 409, -0.1, 1.1, 3.49, 4.75);
curve(E, eModelPh, eModelV, GRAY, 3, null, 'hipparcos-model');
dots(E, eDataPh, eDataV, NAVY, 1.6, 'hipparcos-point');
errbar(E.g, E.sx(0.947), E.sy(4.486) - 3, E.sy(4.486) + 3, NAVY, 3, 'hipparcos-error-sample');
bigLabel(1044, 390, 'B_MVB_HIPPARCOS', 'hipparcos-band-label');
frame(E);
xTicks(E, phTicks, null, 13);
yTicks(E, [3.6, 4.0, 4.4], ['3.6', '4.0', '4.4'], 14);
smallLegend(969, 256, NAVY, 'Hipparcos', 'legend-hipparcos');
txt(1119, 256, '\u03c7\u00b2 \u22120.61', 13, {}, 'hipparcos-chi2');
circleLabel(961, 387, 'e', 'panel-e-label');

const F = makePanel('v-tycho-panel', 653, 413, 902, 588, -0.1, 1.1, 3.45, 4.785);
curve(F, fModelPh, fModelV, GRAY, 3, null, 'v-tycho-model');
dots(F, fDataPh, fDataV, NAVY, 1.6, 'v-tycho-point');
errbar(F.g, F.sx(0.95), F.sy(4.415) - 1.5, F.sy(4.415) + 1.5, NAVY, 2, 'v-tycho-error-sample');
bigLabel(779, 566, 'V_MVB_TYCHO', 'v-tycho-band-label');
frame(F);
xTicks(F, phTicks, null, 13);
yTicks(F, [3.6, 4.0, 4.4], ['3.6', '4.0', '4.4'], 14);
smallLegend(677, 434, NAVY, 'Tycho', 'legend-v-tycho');
txt(827, 434, '\u03c7\u00b2 =2.23', 13, {}, 'v-tycho-chi2');
circleLabel(669, 566, 'f', 'panel-f-label');

const G = makePanel('v-gcpd-panel', 945, 413, 1194, 588, -0.1, 1.1, 3.33, 4.645);
curve(G, gModelPh, gModelV, GRAY, 3, null, 'v-gcpd-model');
dots(G, gKissPh, gKissV, YEL, 1.7, 'v-gcpd-kiss-point');
dots(G, gMofPh, gMofV, DRED, 1.7, 'v-gcpd-moffett-point');
dots(G, gBerdPh, gBerdV, NAVY, 1.7, 'v-gcpd-berdnikov-point');
dots(G, gEnglePh, gEngleV, CYAN, 1.7, 'v-gcpd-engle-point');
errbar(G.g, G.sx(0.947), G.sy(4.325) - 4, G.sy(4.325) + 4, NAVY, 3, 'v-gcpd-error-berdnikov');
errbar(G.g, G.sx(0.971), G.sy(4.15) - 4, G.sy(4.15) + 4, CYAN, 3, 'v-gcpd-error-engle');
errbar(G.g, G.sx(0.995), G.sy(3.98) - 4, G.sy(3.98) + 4, YEL, 3, 'v-gcpd-error-kiss');
errbar(G.g, G.sx(1.018), G.sy(3.8) - 4, G.sy(3.8) + 4, DRED, 3, 'v-gcpd-error-moffett');
bigLabel(1102, 566, 'V_GCPD', 'v-gcpd-band-label');
frame(G);
xTicks(G, phTicks, null, 13);
yTicks(G, [3.4, 3.8, 4.2, 4.6], ['3.4', '3.8', '4.2', '4.6'], 14);
smallLegend(969, 434, NAVY, 'Berdnikov+ 2008', 'legend-g-berdnikov');
smallLegend(969, 453, CYAN, 'Engle+ 2014', 'legend-g-engle');
smallLegend(969, 472, YEL, 'Kiss+ 1998', 'legend-g-kiss');
smallLegend(969, 490, DRED, 'Moffett+ 1984', 'legend-g-moffett');
txt(1119, 434, '\u03c7\u00b2 =1.71', 13, {}, 'v-gcpd-chi2');
circleLabel(961, 566, 'g', 'panel-g-label');

const H = makePanel('k-ctio-panel', 653, 591, 902, 765, -0.1, 1.1, 2.179, 2.542);
curve(H, hNoCsePh, hNoCseV, '#c8c8c8', 2.5, '9,6', 'k-ctio-nocse');
curve(H, hModelPh, hModelV, GRAY, 3, null, 'k-ctio-model');
dots(H, hDataPh, hDataV, NAVY, 1.6, 'k-ctio-point');
errbar(H.g, H.sx(0.95), H.sy(2.43) - 19, H.sy(2.43) + 19, '#5050a0', 3, 'k-ctio-error-sample');
bigLabel(833, 744, 'K_CTIO', 'k-ctio-band-label');
frame(H);
xTicks(H, phTicks, null, 13);
yTicks(H, [2.2, 2.3, 2.4, 2.5], ['2.2', '2.3', '2.4', '2.5'], 14);
smallLegend(677, 611, NAVY, 'Barnes+ 1997', 'legend-h-barnes');
dashLegend(677, 630, 'legend-h-nocse');
txt(827, 611, '\u03c7\u00b2 =3.41', 13, {}, 'k-ctio-chi2');
circleLabel(669, 743, 'h', 'panel-h-label');

const I = makePanel('bv-gcpd-panel', 945, 591, 1194, 765, -0.1, 1.1, 0.29, 1.026);
curve(I, iModelPh, iModelV, GRAY, 3, null, 'bv-gcpd-model');
dots(I, iKissPh, iKissV, YEL, 1.7, 'bv-gcpd-kiss-point');
dots(I, iMofPh, iMofV, DRED, 1.7, 'bv-gcpd-moffett-point');
dots(I, iBerdPh, iBerdV, NAVY, 1.7, 'bv-gcpd-berdnikov-point');
dots(I, iEnglePh, iEngleV, CYAN, 1.7, 'bv-gcpd-engle-point');
errbar(I.g, I.sx(0.947), I.sy(0.828) - 14, I.sy(0.828) + 14, NAVY, 3.5, 'bv-gcpd-error-berdnikov');
errbar(I.g, I.sx(0.971), I.sy(0.77) - 10, I.sy(0.77) + 10, CYAN, 3.5, 'bv-gcpd-error-engle');
errbar(I.g, I.sx(0.995), I.sy(0.706) - 10, I.sy(0.706) + 10, YEL, 3.5, 'bv-gcpd-error-kiss');
errbar(I.g, I.sx(1.018), I.sy(0.647) - 10, I.sy(0.647) + 10, DRED, 3.5, 'bv-gcpd-error-moffett');
bigLabel(1094, 724, 'B_GCPD -', 'bv-gcpd-band-label-1');
bigLabel(1094, 744, 'V_GCPD', 'bv-gcpd-band-label-2');
frame(I);
xTicks(I, phTicks, null, 13);
yTicks(I, [0.3, 0.5, 0.7, 0.9], ['0.3', '0.5', '0.7', '0.9'], 14);
smallLegend(969, 611, NAVY, 'Berdnikov+ 2008', 'legend-i-berdnikov');
smallLegend(969, 630, CYAN, 'Engle+ 2014', 'legend-i-engle');
smallLegend(969, 649, YEL, 'Kiss+ 1998', 'legend-i-kiss');
smallLegend(969, 667, DRED, 'Moffett+ 1984', 'legend-i-moffett');
txt(1119, 611, '\u03c7\u00b2 =0.87', 13, {}, 'bv-gcpd-chi2');
circleLabel(961, 743, 'i', 'panel-i-label');

const J = makePanel('jk-ctio-panel', 653, 769, 902, 943, -0.1, 1.1, 0.236, 0.531);
curve(J, jNoCsePh, jNoCseV, '#c8c8c8', 2.5, '9,6', 'jk-ctio-nocse');
curve(J, jModelPh, jModelV, GRAY, 3, null, 'jk-ctio-model');
dots(J, jDataPh, jDataV, NAVY, 1.6, 'jk-ctio-point');
errbar(J.g, J.sx(0.95), J.sy(0.455) - 6, J.sy(0.455) + 6, '#5050a0', 3, 'jk-ctio-error-sample');
bigLabel(804, 902, 'J_CTIO -', 'jk-ctio-band-label-1');
bigLabel(804, 922, 'K_CTIO', 'jk-ctio-band-label-2');
frame(J);
xTicks(J, phTicks, 960, 14);
yTicks(J, [0.25, 0.35, 0.45], ['0.25', '0.35', '0.45'], 14);
smallLegend(677, 789, NAVY, 'Barnes+ 1997', 'legend-j-barnes');
dashLegend(677, 808, 'legend-j-nocse');
txt(827, 789, '\u03c7\u00b2 =2.35', 13, {}, 'jk-ctio-chi2');
circleLabel(669, 921, 'j', 'panel-j-label');

const K = makePanel('hk-ctio-panel', 945, 769, 1194, 943, -0.1, 1.1, 0.0473, 0.0907);
curve(K, kNoCsePh, kNoCseV, '#c8c8c8', 2.5, '9,6', 'hk-ctio-nocse');
curve(K, kModelPh, kModelV, GRAY, 3, null, 'hk-ctio-model');
dots(K, kDataPh, kDataV, NAVY, 1.6, 'hk-ctio-point');
errbar(K.g, K.sx(0.945), K.sy(0.0774) - 40, K.sy(0.0774) + 40, '#5050b0', 3, 'hk-ctio-error-sample');
bigLabel(1094, 902, 'H_CTIO -', 'hk-ctio-band-label-1');
bigLabel(1094, 922, 'K_CTIO', 'hk-ctio-band-label-2');
frame(K);
xTicks(K, phTicks, 960, 14);
yTicks(K, [0.05, 0.07, 0.09], ['0.05', '0.07', '0.09'], 14);
smallLegend(969, 789, NAVY, 'Barnes+ 1997', 'legend-k-barnes');
dashLegend(969, 808, 'legend-k-nocse');
txt(1119, 789, '\u03c7\u00b2 =0.27', 13, {}, 'hk-ctio-chi2');
circleLabel(961, 921, 'k', 'panel-k-label');
txt(1070, 985, 'pulsation phase', 17, {'text-anchor': 'middle'}, 'right-x-axis-title');
</script>
</body></html>
